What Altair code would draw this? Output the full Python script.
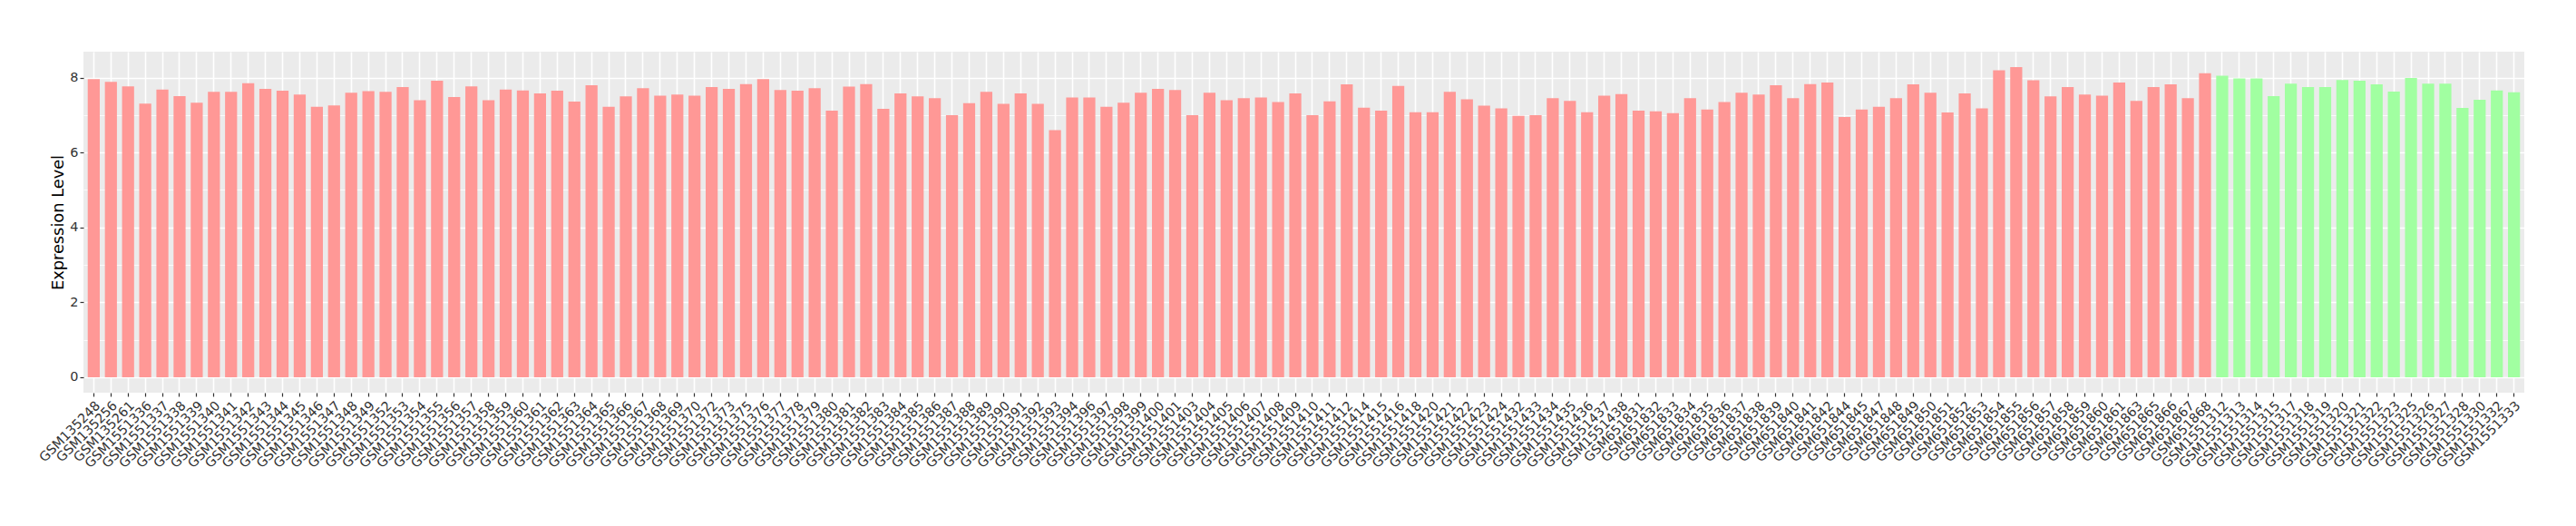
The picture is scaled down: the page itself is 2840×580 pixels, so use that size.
import altair as alt
import pandas as pd

samples_red_a = ["GSM135248", "GSM135256", "GSM135261",
    "GSM1551336", "GSM1551337", "GSM1551338", "GSM1551339", "GSM1551340", "GSM1551341", "GSM1551342",
    "GSM1551343", "GSM1551344", "GSM1551345", "GSM1551346", "GSM1551347", "GSM1551348", "GSM1551349",
    "GSM1551352", "GSM1551353", "GSM1551354", "GSM1551355", "GSM1551356", "GSM1551357", "GSM1551358",
    "GSM1551359", "GSM1551360", "GSM1551361", "GSM1551362", "GSM1551363", "GSM1551364", "GSM1551365",
    "GSM1551366", "GSM1551367", "GSM1551368", "GSM1551369", "GSM1551370", "GSM1551372", "GSM1551373",
    "GSM1551375", "GSM1551376", "GSM1551377", "GSM1551378", "GSM1551379", "GSM1551380", "GSM1551381",
    "GSM1551382", "GSM1551383", "GSM1551384", "GSM1551385", "GSM1551386", "GSM1551387", "GSM1551388",
    "GSM1551389", "GSM1551390", "GSM1551391", "GSM1551392", "GSM1551393", "GSM1551394", "GSM1551396",
    "GSM1551397", "GSM1551398", "GSM1551399", "GSM1551400", "GSM1551401", "GSM1551403", "GSM1551404",
    "GSM1551405", "GSM1551406", "GSM1551407", "GSM1551408", "GSM1551409", "GSM1551410", "GSM1551411",
    "GSM1551412", "GSM1551414", "GSM1551415", "GSM1551416", "GSM1551418", "GSM1551420", "GSM1551421",
    "GSM1551422", "GSM1551423", "GSM1551424", "GSM1551432", "GSM1551433", "GSM1551434", "GSM1551435",
    "GSM1551436", "GSM1551437", "GSM1551438"]
samples_red_b = ["GSM651831", "GSM651832", "GSM651833", "GSM651834", "GSM651835", "GSM651836",
    "GSM651837", "GSM651838", "GSM651839", "GSM651840", "GSM651841", "GSM651842", "GSM651844",
    "GSM651845", "GSM651847", "GSM651848", "GSM651849", "GSM651850", "GSM651851", "GSM651852",
    "GSM651853", "GSM651854", "GSM651855", "GSM651856", "GSM651857", "GSM651858", "GSM651859",
    "GSM651860", "GSM651861", "GSM651863", "GSM651865", "GSM651866", "GSM651867", "GSM651868"]
samples_green = ["GSM1551312", "GSM1551313", "GSM1551314", "GSM1551315", "GSM1551317", "GSM1551318",
    "GSM1551319", "GSM1551320", "GSM1551321", "GSM1551322", "GSM1551323", "GSM1551325",
    "GSM1551326", "GSM1551327", "GSM1551328", "GSM1551330", "GSM1551332", "GSM1551333"]

values_red_a = [7.96, 7.89, 7.77,
    7.31, 7.68, 7.51, 7.33, 7.62, 7.62, 7.85, 7.70, 7.65, 7.55, 7.22, 7.26, 7.60, 7.64,
    7.62, 7.75, 7.40, 7.92, 7.48, 7.77, 7.40, 7.68, 7.66, 7.58, 7.65, 7.36, 7.80, 7.22,
    7.50, 7.72, 7.52, 7.55, 7.52, 7.75, 7.70, 7.83, 7.96, 7.67, 7.65, 7.72, 7.12, 7.76,
    7.83, 7.17, 7.58, 7.50, 7.45, 7.00, 7.32, 7.62, 7.30, 7.58, 7.30, 6.60, 7.47, 7.47,
    7.22, 7.33, 7.60, 7.70, 7.67, 7.00, 7.60, 7.40, 7.45, 7.47, 7.35, 7.58, 7.00, 7.37,
    7.82, 7.20, 7.12, 7.78, 7.08, 7.08, 7.62, 7.42, 7.25, 7.18, 6.98, 7.00, 7.45, 7.38,
    7.08, 7.52, 7.56]
values_red_b = [7.12, 7.10, 7.05, 7.45, 7.15, 7.35, 7.60, 7.55, 7.80, 7.45, 7.83, 7.87, 6.95,
    7.15, 7.22, 7.45, 7.82, 7.60, 7.07, 7.58, 7.18, 8.20, 8.28, 7.93, 7.50, 7.75, 7.55,
    7.52, 7.87, 7.38, 7.75, 7.82, 7.45, 8.12]
values_green = [8.05, 7.98, 7.98, 7.51, 7.84, 7.75, 7.75, 7.94, 7.92, 7.82, 7.63, 7.99,
    7.84, 7.84, 7.19, 7.41, 7.66, 7.61]

groups = ["A", "B"]
colors = ["#FF9896", "#A1FFA1"]

samples = samples_red_a + samples_red_b + samples_green
values = values_red_a + values_red_b + values_green
grp = [groups[0]] * (len(samples_red_a) + len(samples_red_b)) + [groups[1]] * len(samples_green)

df = pd.DataFrame({"sample": samples, "value": values, "group": grp})

FONT = "DejaVu Sans"

chart = alt.Chart(df).mark_bar().encode(
    x=alt.X("sample:N", sort=samples, title=None,
            scale=alt.Scale(paddingInner=0.3, paddingOuter=0.25),
            axis=alt.Axis(labelAngle=-45, labelAlign="right", labelBaseline="top",
                          labelOverlap=False, labelFont=FONT, labelFontSize=14.4,
                          labelColor="#333333", labelPadding=3, tickSize=4, tickColor="#333333",
                          tickWidth=1.2, domain=False, grid=True, gridColor="white",
                          gridWidth=1.6, bandPosition=0.5, labelLimit=0)),
    y=alt.Y("value:Q", title="Expression Level",
            scale=alt.Scale(domain=[-0.414, 8.694], nice=False, zero=False),
            axis=alt.Axis(values=[0, 1, 2, 3, 4, 5, 6, 7, 8],
                          labelExpr="datum.value % 2 === 0 ? datum.label : ''",
                          labelFont=FONT, labelFontSize=14.4, labelColor="#333333",
                          labelPadding=2, tickSize=4, tickColor="#333333", tickWidth=1.2,
                          tickOpacity={"condition": {"test": "datum.value % 2 === 0", "value": 1}, "value": 0},
                          gridWidth={"condition": {"test": "datum.value % 2 === 0", "value": 1.6}, "value": 0.8},
                          domain=False, grid=True, gridColor="white",
                          titleFont=FONT, titleFontSize=17.8, titleFontWeight="normal",
                          titleColor="black", titlePadding=3)),
    y2=alt.datum(0),
    color=alt.Color("group:N", scale=alt.Scale(domain=groups, range=colors), legend=None),
).properties(
    width=2691, height=376,
    autosize=alt.AutoSizeParams(type="none"),
    padding={"left": 84, "top": 49, "right": 40, "bottom": 120},
).configure_view(fill="#EBEBEB", stroke=None)

chart.save("out.html", embed_options={"renderer": "svg", "actions": False})
